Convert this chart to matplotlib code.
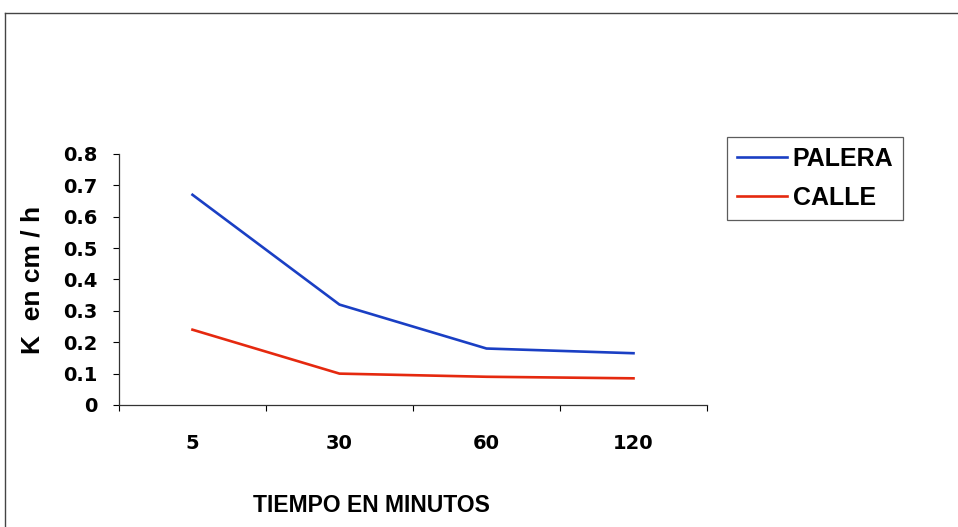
import matplotlib.pyplot as plt
from matplotlib.lines import Line2D
from matplotlib.font_manager import FontProperties

plt.rcParams['font.family'] = ['DejaVu Sans']
plt.rcParams['font.weight'] = 'bold'

tiempos = ["5", "30", "60", "120"]
palera = [0.67, 0.32, 0.18, 0.165]
calle = [0.24, 0.10, 0.09, 0.085]
y_ticks = [0, 0.1, 0.2, 0.3, 0.4, 0.5, 0.6, 0.7, 0.8]

AZUL = "#1a3fc4"
ROJO = "#e5290f"
ARIAL = ["Liberation Sans", "DejaVu Sans"]

fig = plt.figure(figsize=(9.58, 5.27), dpi=100)
ax = fig.add_axes([0.1242, 0.2315, 0.6138, 0.4763])

x = list(range(len(tiempos)))
ax.plot(x, palera, color=AZUL, lw=1.9, label="PALERA")
ax.plot(x, calle, color=ROJO, lw=1.9, label="CALLE")

ax.set_xlim(-0.5, len(tiempos) - 0.5)
ax.set_ylim(0, 0.8)
ax.set_yticks(y_ticks)
ax.set_yticklabels([f"{v:g}" for v in y_ticks], fontsize=14, fontweight="bold")

# categorias centradas, marcas de tick en los limites
ax.set_xticks(x)
ax.set_xticklabels(tiempos, fontsize=14, fontweight="bold")
ax.tick_params(axis="x", which="major", length=0, pad=21)
ax.set_xticks([i - 0.5 for i in range(len(tiempos) + 1)], minor=True)
ax.tick_params(axis="x", which="minor", length=4.5, width=0.8, direction="out")
ax.tick_params(axis="y", length=4.5, width=0.8, pad=11)

for s in ["top", "right"]:
    ax.spines[s].set_visible(False)
for s in ["left", "bottom"]:
    ax.spines[s].set_color("#333333")
    ax.spines[s].set_linewidth(0.9)

# titulos de ejes
fig.text(33 / 958, 1 - 280 / 527, "K  en cm / h", rotation=90, ha="center", va="center",
         fontsize=19, fontweight="bold", family=ARIAL)
fig.text(371 / 958, 1 - 506 / 527, "TIEMPO EN MINUTOS", ha="center", va="center",
         fontsize=16.5, fontweight="bold", family=ARIAL)

handles = [Line2D([], [], color=AZUL, lw=1.9),
           Line2D([], [], color=ROJO, lw=1.9)]
leg_font = FontProperties(family=ARIAL, weight="bold", size=18)
leg = fig.legend(handles, ["PALERA", "CALLE"], loc="upper left",
                 bbox_to_anchor=(727 / 958, 1 - 137 / 527),
                 prop=leg_font, fancybox=False,
                 handlelength=2.0, handletextpad=0.25, borderpad=0.38,
                 labelspacing=0.62, borderaxespad=0)
for t in leg.get_texts():
    t.set_fontweight("bold")
leg.get_frame().set_edgecolor("#333333")
leg.get_frame().set_linewidth(0.9)

# marco exterior del grafico
fig.add_artist(Line2D([5 / 958, 1], [1 - 13 / 527] * 2, color="#444444", lw=1.0))
fig.add_artist(Line2D([5 / 958] * 2, [0, 1 - 13 / 527], color="#444444", lw=1.0))

fig.savefig("out.png", dpi=100)
